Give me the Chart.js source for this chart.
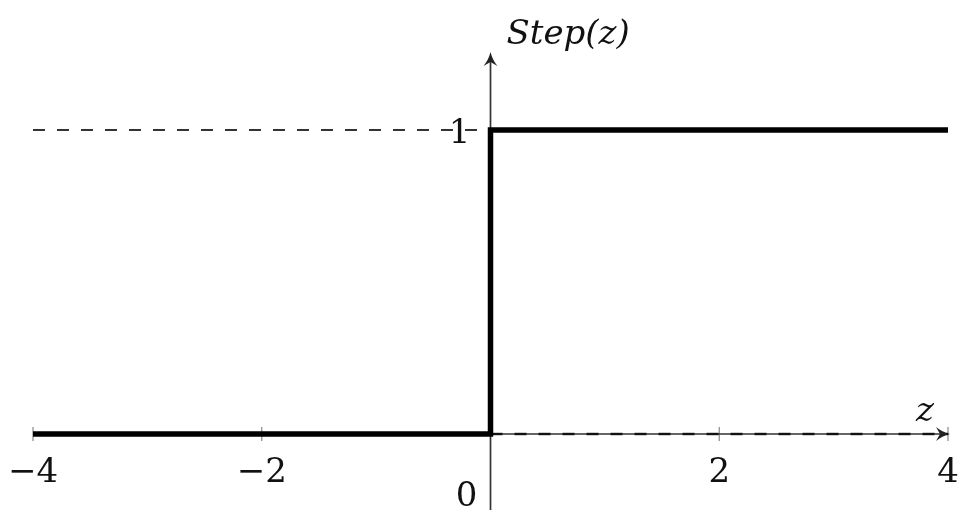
<!DOCTYPE html>
<html>
<head>
<meta charset="utf-8">
<script src="https://cdn.jsdelivr.net/npm/chart.js@4.4.1/dist/chart.umd.min.js"></script>
<style>
  html, body { margin: 0; padding: 0; background: #fff; }
  canvas { display: block; }
</style>
</head>
<body>
<canvas id="stepChart" width="961" height="513"></canvas>
<script>
// step function and dashed guide lines
const stepX = [-4, 0, 0, 4];
const stepY = [0, 0, 1, 1];
const guideUpperX = [-4, 0];
const guideUpperY = [1, 1];
const guideLowerX = [0, 4];
const guideLowerY = [0, 0];

const xTicks = [-4, -2, 2, 4];
const yTicks = [1];
const xRange = [-4, 4];
const yRange = [-0.25, 1.25];

function toPoints(xs, ys) {
  return xs.map((x, i) => ({ x: x, y: ys[i] }));
}

const serif = '"DejaVu Serif", serif';

function arrowHead(ctx, x, y, dir) {
  // dir: 'up' or 'right'
  ctx.save();
  ctx.translate(x, y);
  if (dir === 'up') ctx.rotate(-Math.PI / 2);
  ctx.beginPath();
  ctx.moveTo(2, 0);
  ctx.quadraticCurveTo(-6, -2, -12, -7);
  ctx.lineTo(-8, 0);
  ctx.lineTo(-12, 7);
  ctx.quadraticCurveTo(-6, 2, 2, 0);
  ctx.closePath();
  ctx.fill();
  ctx.restore();
}

const axesPlugin = {
  id: 'axesPlugin',
  beforeDatasetsDraw(chart) {
    const ctx = chart.ctx;
    const xs = chart.scales.x, ys = chart.scales.y;
    const x0 = xs.getPixelForValue(0);
    const y0 = ys.getPixelForValue(0);
    ctx.save();
    ctx.fillStyle = '#222';

    // tick marks
    ctx.strokeStyle = '#888';
    ctx.lineWidth = 1.2;
    xTicks.forEach(v => {
      const px = xs.getPixelForValue(v);
      ctx.beginPath();
      ctx.moveTo(px, y0 - 7);
      ctx.lineTo(px, y0 + 7);
      ctx.stroke();
    });

    // x axis
    ctx.strokeStyle = '#333';
    ctx.lineWidth = 1.7;
    const xEnd = xs.getPixelForValue(xRange[1]);
    ctx.beginPath();
    ctx.moveTo(xs.getPixelForValue(xRange[0]), y0);
    ctx.lineTo(xEnd - 5, y0);
    ctx.stroke();
    arrowHead(ctx, xEnd, y0, 'right');

    // y axis
    const yTop = ys.getPixelForValue(yRange[1]);
    ctx.beginPath();
    ctx.moveTo(x0, ys.getPixelForValue(yRange[0]));
    ctx.lineTo(x0, yTop + 5);
    ctx.stroke();
    arrowHead(ctx, x0, yTop, 'up');
    ctx.restore();
  },
  afterDraw(chart) {
    const ctx = chart.ctx;
    const xs = chart.scales.x, ys = chart.scales.y;
    const x0 = xs.getPixelForValue(0);
    const y0 = ys.getPixelForValue(0);
    ctx.save();
    ctx.fillStyle = '#111';
    ctx.font = '34px ' + serif;
    ctx.textAlign = 'center';
    ctx.textBaseline = 'alphabetic';
    xTicks.forEach(v => {
      const label = v < 0 ? '\u2212' + Math.abs(v) : String(v);
      ctx.fillText(label, xs.getPixelForValue(v), y0 + 48);
    });
    ctx.fillText('0', x0 - 24, y0 + 72);
    ctx.textAlign = 'right';
    yTicks.forEach(v => {
      ctx.fillText(String(v), x0 - 20, ys.getPixelForValue(v) + 13);
    });

    ctx.font = 'italic 34px ' + serif;
    ctx.textAlign = 'left';
    ctx.fillText('Step(z)', x0 + 16, 44);
    ctx.textAlign = 'center';
    ctx.fillText('z', xs.getPixelForValue(xRange[1]) - 23, y0 - 13);
    ctx.restore();
  }
};

new Chart(document.getElementById('stepChart'), {
  type: 'scatter',
  data: {
    datasets: [
      {
        label: 'Step',
        data: toPoints(stepX, stepY),
        showLine: true,
        borderColor: '#000',
        borderWidth: 5.5,
        pointRadius: 0,
        borderJoinStyle: 'miter',
        borderCapStyle: 'butt',
        clip: false
      },
      {
        label: 'guide1',
        data: toPoints(guideUpperX, guideUpperY),
        showLine: true,
        borderColor: '#333',
        borderWidth: 2,
        borderDash: [12, 12],
        pointRadius: 0,
        clip: false
      },
      {
        label: 'guide0',
        data: toPoints(guideLowerX, guideLowerY),
        showLine: true,
        borderColor: '#111',
        borderWidth: 2.4,
        borderDash: [12, 12],
        pointRadius: 0,
        clip: false
      }
    ]
  },
  options: {
    responsive: false,
    animation: false,
    devicePixelRatio: 1,
    layout: { padding: { left: 33, right: 13, top: 54, bottom: 3 } },
    plugins: {
      legend: { display: false },
      tooltip: { enabled: false }
    },
    scales: {
      x: { type: 'linear', min: xRange[0], max: xRange[1], display: false },
      y: { type: 'linear', min: yRange[0], max: yRange[1], display: false }
    }
  },
  plugins: [axesPlugin]
});
</script>
</body>
</html>
